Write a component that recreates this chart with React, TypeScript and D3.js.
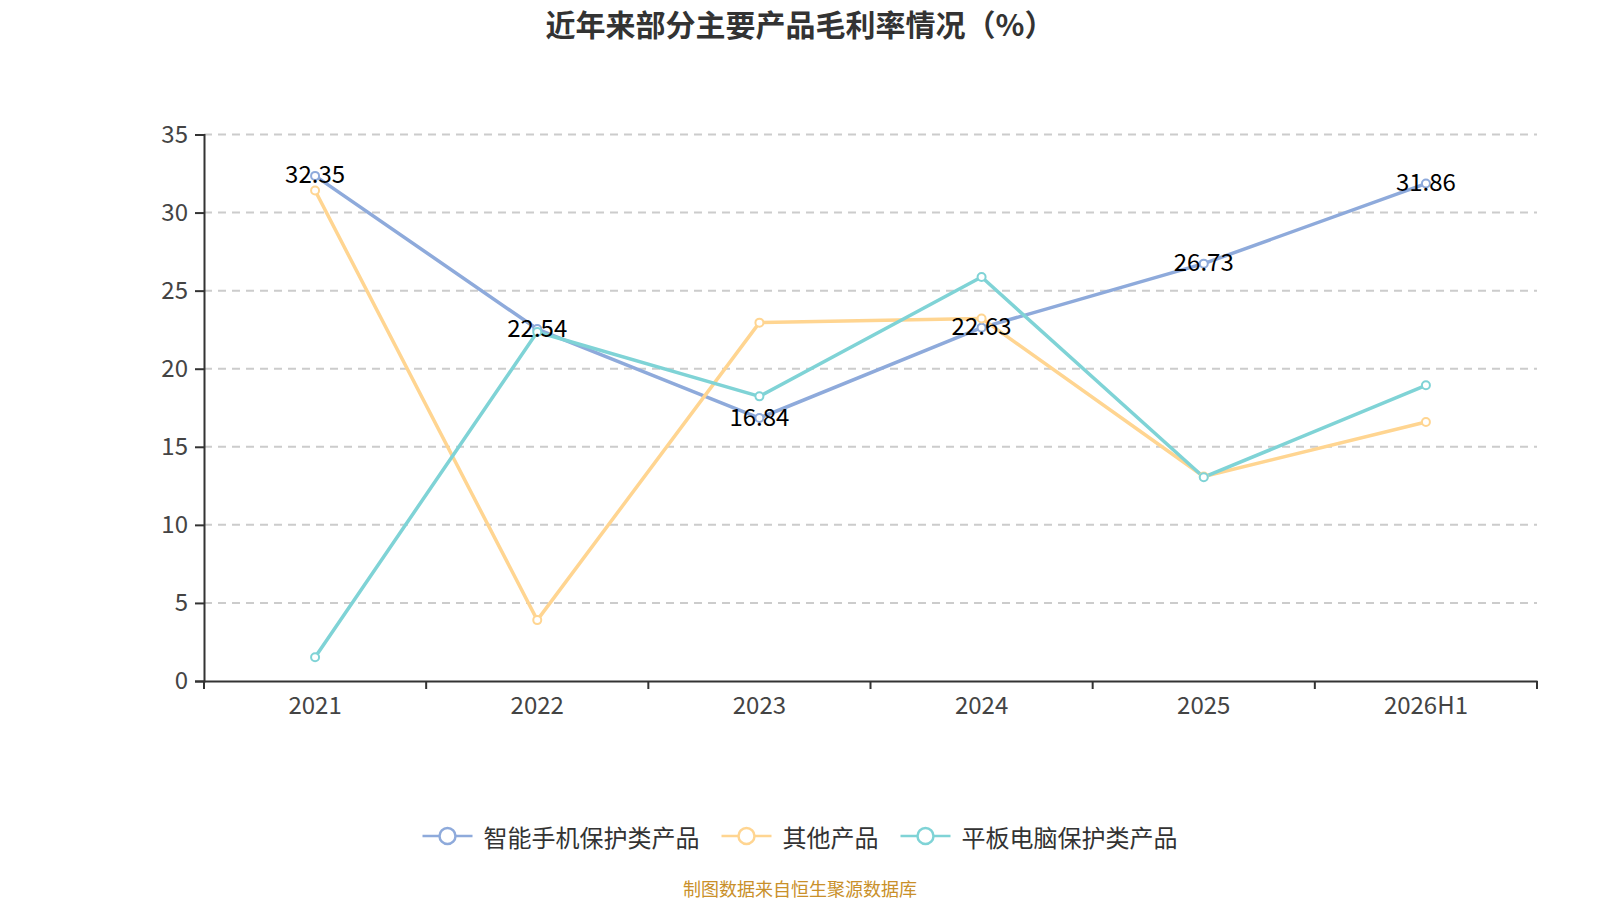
import { useEffect, useRef } from "react";
import * as d3 from "d3";

const categories = ["2021", "2022", "2023", "2024", "2025", "2026H1"];
const phoneCase = [32.35, 22.54, 16.84, 22.63, 26.73, 31.86];
const otherProducts = [31.41, 3.9, 22.95, 23.22, 13.1, 16.59];
const tabletCase = [1.52, 22.35, 18.23, 25.87, 13.05, 18.94];
const yTicks = [0, 5, 10, 15, 20, 25, 30, 35];

const seriesList = [
  { name: "智能手机保护类产品", values: phoneCase, color: "#8eaadb", labels: true },
  { name: "其他产品", values: otherProducts, color: "#ffd591", labels: false },
  { name: "平板电脑保护类产品", values: tabletCase, color: "#7fd3d6", labels: false },
];

const FONT = "'Noto Sans CJK SC', 'Noto Sans', sans-serif";

export default function App() {
  const svgRef = useRef<SVGSVGElement>(null);

  useEffect(() => {
    if (!svgRef.current) return;
    document.body.style.margin = "0";

    const width = 1600;
    const height = 900;
    const margin = { top: 134.5, right: 63, bottom: 219, left: 204 };
    const innerWidth = width - margin.left - margin.right;
    const innerHeight = height - margin.top - margin.bottom;

    d3.select(svgRef.current).selectAll("*").remove();
    const svg = d3
      .select(svgRef.current)
      .attr("width", width)
      .attr("height", height)
      .style("font-family", FONT);

    // Title
    svg
      .append("text")
      .attr("x", width / 2)
      .attr("y", 23)
      .attr("text-anchor", "middle")
      .attr("dominant-baseline", "central")
      .attr("font-size", 30)
      .attr("font-weight", "bold")
      .attr("fill", "#333")
      .text("近年来部分主要产品毛利率情况（%）");

    const xScale = d3.scaleBand().domain(categories).range([0, innerWidth]);
    const yScale = d3.scaleLinear().domain([0, 35]).range([innerHeight, 0]);

    const g = svg
      .append("g")
      .attr("transform", `translate(${margin.left},${margin.top})`);

    // Grid lines
    g.append("g")
      .selectAll("line")
      .data(yTicks.filter((t) => t > 0))
      .enter()
      .append("line")
      .attr("x1", 0)
      .attr("x2", innerWidth)
      .attr("y1", (d) => yScale(d))
      .attr("y2", (d) => yScale(d))
      .attr("stroke", "#cccccc")
      .attr("stroke-width", 2)
      .attr("stroke-dasharray", "8,6");

    // Y axis
    const yAxis = g
      .append("g")
      .call(
        d3
          .axisLeft(yScale)
          .tickValues(yTicks)
          .tickSize(9)
          .tickPadding(7)
          .tickFormat((d) => String(d))
      );
    yAxis.select(".domain").attr("stroke", "#333").attr("stroke-width", 2);
    yAxis.selectAll(".tick line").attr("stroke", "#333").attr("stroke-width", 2);
    yAxis
      .selectAll(".tick text")
      .attr("font-size", 24)
      .attr("font-family", FONT)
      .attr("fill", "#444");

    // X axis
    const xAxis = g
      .append("g")
      .attr("transform", `translate(0,${innerHeight})`)
      .call(d3.axisBottom(xScale).tickSize(0).tickPadding(16));
    xAxis.select(".domain").attr("stroke", "#333").attr("stroke-width", 2);
    xAxis
      .selectAll(".tick text")
      .attr("font-size", 24)
      .attr("font-family", FONT)
      .attr("fill", "#444");
    // boundary ticks between categories
    const boundaries = d3.range(categories.length + 1).map((i) => i * xScale.bandwidth());
    xAxis
      .selectAll(".bound")
      .data(boundaries)
      .enter()
      .append("line")
      .attr("class", "bound")
      .attr("x1", (d) => d)
      .attr("x2", (d) => d)
      .attr("y1", 0)
      .attr("y2", 8)
      .attr("stroke", "#333")
      .attr("stroke-width", 2);

    const xPos = (i: number) => (xScale(categories[i]) || 0) + xScale.bandwidth() / 2;

    const line = d3
      .line<number>()
      .x((_, i) => xPos(i))
      .y((d) => yScale(d));

    seriesList.forEach((s) => {
      g.append("path")
        .datum(s.values)
        .attr("fill", "none")
        .attr("stroke", s.color)
        .attr("stroke-width", 3.5)
        .attr("stroke-linejoin", "round")
        .attr("d", line);
    });

    seriesList.forEach((s) => {
      g.selectAll(null)
        .data(s.values)
        .enter()
        .append("circle")
        .attr("cx", (_, i) => xPos(i))
        .attr("cy", (d) => yScale(d))
        .attr("r", 4)
        .attr("fill", "#fff")
        .attr("stroke", s.color)
        .attr("stroke-width", 2);
    });

    // Data labels (only first series)
    seriesList
      .filter((s) => s.labels)
      .forEach((s) => {
        g.selectAll(null)
          .data(s.values)
          .enter()
          .append("text")
          .attr("x", (_, i) => xPos(i))
          .attr("y", (d) => yScale(d) - 3)
          .attr("text-anchor", "middle")
          .attr("dominant-baseline", "central")
          .attr("font-size", 24)
          .attr("fill", "#000")
          .text((d) => d.toFixed(2));
      });

    // Legend
    const legend = svg.append("g");
    let cursor = 0;
    seriesList.forEach((s, i) => {
      const item = legend.append("g").attr("transform", `translate(${cursor},0)`);
      item
        .append("line")
        .attr("x1", 0)
        .attr("x2", 50)
        .attr("y1", 0)
        .attr("y2", 0)
        .attr("stroke", s.color)
        .attr("stroke-width", 2.5);
      item
        .append("circle")
        .attr("cx", 25)
        .attr("cy", 0)
        .attr("r", 8)
        .attr("fill", "#fff")
        .attr("stroke", s.color)
        .attr("stroke-width", 2.5);
      const label = item
        .append("text")
        .attr("x", 61)
        .attr("y", 0)
        .attr("dominant-baseline", "central")
        .attr("font-size", 24)
        .attr("fill", "#333")
        .text(s.name);
      const textWidth = (label.node() as SVGTextElement).getComputedTextLength();
      cursor += 61 + textWidth + (i < seriesList.length - 1 ? 22 : 0);
    });
    legend.attr("transform", `translate(${(width - cursor) / 2},836)`);

    // Source note
    svg
      .append("text")
      .attr("x", width / 2)
      .attr("y", 888)
      .attr("text-anchor", "middle")
      .attr("dominant-baseline", "central")
      .attr("font-size", 18)
      .attr("fill", "#c9902a")
      .text("制图数据来自恒生聚源数据库");
  }, []);

  return <svg ref={svgRef} style={{ display: "block" }} />;
}
